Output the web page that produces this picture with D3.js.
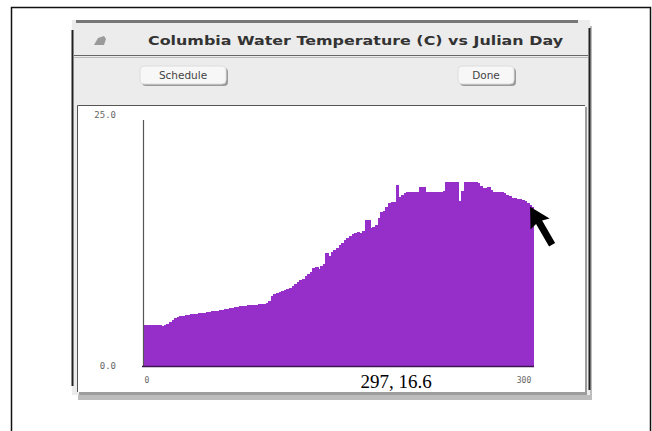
<!DOCTYPE html>
<meta charset="utf-8">
<script src="https://d3js.org/d3.v7.min.js"></script>
<style>
  body { margin: 0; background: #fff; }
  svg { display: block; }
</style>
<div id="my_dataviz"></div>
<script>

  // water temperature (C), one value every 2 julian days starting at day 0
  var dayStep = 2;
  var temps = [
    4.2, 4.2, 4.2, 4.2, 4.2, 4.2, 4.2, 4.1, 4.2, 4.3, 4.5,
    4.7, 4.9, 5.0, 5.1, 5.1,
    5.2, 5.2, 5.3, 5.3, 5.3, 5.4, 5.4, 5.4, 5.5, 5.5, 5.6, 5.6, 5.6, 5.7,
    5.7, 5.8, 5.8, 5.9, 5.9, 6.0, 6.0,
    6.1, 6.1, 6.1, 6.2, 6.2, 6.2, 6.2, 6.3, 6.3, 6.3, 6.4,
    6.6, 7.1, 7.3, 7.4, 7.5, 7.6, 7.7, 7.8, 7.9,
    8.1, 8.3, 8.5, 8.7, 8.8, 9.1, 9.3, 9.6, 10.0,
    10.1, 9.9, 10.2, 10.4,
    11.5, 11.2, 11.6, 11.8, 12.0, 12.3,
    12.5, 12.8, 13.0, 13.2, 13.4, 13.5, 13.6, 13.5, 13.7, 14.8,
    14.8, 14.0, 14.1, 14.3, 15.0,
    15.6, 15.8, 16.2, 16.6, 16.7, 16.7,
    18.4,
    17.2, 17.4, 17.6, 17.7, 17.7, 17.7, 17.7, 17.7,
    18.2, 18.2, 17.7,
    17.7, 17.7, 17.7, 17.7, 17.7, 17.7, 17.8,
    18.7, 18.7, 18.7, 18.7, 18.7,
    16.8,
    17.8,
    18.7, 18.7, 18.7, 18.7, 18.7, 18.6, 18.3,
    18.1, 18.1, 18.2, 17.9,
    17.7, 17.7, 17.7, 17.7, 17.6, 17.4, 17.3,
    17.1, 17.1, 17.0, 17.0, 16.9, 16.8,
    16.6, 16.4, 16.2
  ];
  var yTicks = [0, 25];
  var xTicks = [0, 300];
  var cursorDay = 297, cursorTemp = 16.6;

  var svg = d3.select("#my_dataviz")
    .append("svg")
    .attr("width", 652)
    .attr("height", 431);

  // outer frame of the page
  svg.append("path")
    .attr("d", "M11.5,431 V7.5 H650.5 V431")
    .attr("fill", "none")
    .attr("stroke", "#111")
    .attr("stroke-width", 1.5);

  // ---- window ----
  var win = svg.append("g");
  // drop shadow
  win.append("rect").attr("x", 78).attr("y", 26).attr("width", 514).attr("height", 374)
    .attr("fill", "#bdbdbd");
  win.append("rect").attr("x", 72).attr("y", 20).attr("width", 518).attr("height", 375)
    .attr("fill", "#ececec");
  // top dark bar
  win.append("rect").attr("x", 76).attr("y", 20).attr("width", 502).attr("height", 3)
    .attr("fill", "#777");
  // side dark edges
  win.append("line").attr("x1", 72.5).attr("x2", 72.5).attr("y1", 30).attr("y2", 386)
    .attr("stroke", "#222").attr("stroke-width", 2);
  win.append("line").attr("x1", 589.5).attr("x2", 589.5).attr("y1", 28).attr("y2", 390)
    .attr("stroke", "#222").attr("stroke-width", 2);
  // title separator
  win.append("line").attr("x1", 74).attr("x2", 588).attr("y1", 55.5).attr("y2", 55.5)
    .attr("stroke", "#666").attr("stroke-width", 1);
  win.append("line").attr("x1", 74).attr("x2", 588).attr("y1", 57.5).attr("y2", 57.5)
    .attr("stroke", "#bbb").attr("stroke-width", 1);

  // close box icon
  win.append("path")
    .attr("d", "M94,45 L104,45 L106,39 L104,36 L98,38 Z")
    .attr("fill", "#9a9a9a");

  win.append("text")
    .attr("x", 148).attr("y", 45)
    .attr("textLength", 415).attr("lengthAdjust", "spacingAndGlyphs")
    .style("font-family", "DejaVu Sans")
    .style("font-weight", "bold")
    .style("font-size", "13px")
    .attr("fill", "#333")
    .text("Columbia Water Temperature (C) vs Julian Day");

  // buttons
  function button(x, w, label) {
    win.append("rect").attr("x", x + 2).attr("y", 68).attr("width", w).attr("height", 18)
      .attr("rx", 4).attr("fill", "#9a9a9a");
    win.append("rect").attr("x", x).attr("y", 66).attr("width", w).attr("height", 18)
      .attr("rx", 4).attr("fill", "#f7f7f7").attr("stroke", "#ddd");
    win.append("text").attr("x", x + w / 2).attr("y", 79)
      .attr("text-anchor", "middle")
      .style("font-family", "DejaVu Sans").style("font-size", "10.5px")
      .attr("fill", "#444").text(label);
  }
  button(140, 86, "Schedule");
  button(458, 56, "Done");

  // plot panel
  win.append("rect").attr("x", 79).attr("y", 107).attr("width", 508).attr("height", 288)
    .attr("fill", "#9d9d9d");
  win.append("rect").attr("x", 77).attr("y", 105).attr("width", 508).attr("height", 287)
    .attr("fill", "#fff");
  win.append("path").attr("d", "M77.5,392 V105.5 H585")
    .attr("fill", "none").attr("stroke", "#555").attr("stroke-width", 1);

  // ---- chart ----
  var x0 = 143, x1 = 534, yBase = 366, yTop = 120;

  var x = d3.scaleLinear().domain([0, 300]).range([x0, x1]);
  var y = d3.scaleLinear().domain([0, 25]).range([yBase, yTop]);

  var chart = svg.append("g");

  var barW = x(dayStep) - x(0);
  chart.selectAll("rect.bar")
    .data(temps)
    .enter()
    .append("rect")
    .attr("class", "bar")
    .attr("x", function (d, i) { return x(i * dayStep); })
    .attr("width", function (d, i) { return i === temps.length - 1 ? barW : barW + 1; })
    .attr("y", function (d) { return y(d); })
    .attr("height", function (d) { return yBase - y(d); })
    .attr("shape-rendering", "crispEdges")
    .attr("fill", "#962fc9");

  // y axis line
  chart.append("line")
    .attr("x1", x0 + 0.5).attr("x2", x0 + 0.5)
    .attr("y1", y(25)).attr("y2", yBase)
    .attr("stroke", "#555").attr("stroke-width", 1.2);
  // x axis line
  chart.append("line")
    .attr("x1", x0 - 1).attr("x2", x1)
    .attr("y1", yBase + 0.5).attr("y2", yBase + 0.5)
    .attr("stroke", "#3c1450").attr("stroke-width", 1.5);

  chart.selectAll("text.ylab")
    .data(yTicks)
    .enter()
    .append("text")
    .attr("class", "ylab")
    .attr("x", 116)
    .attr("y", function (d) { return y(d) + (d === 0 ? 3 : -2); })
    .attr("text-anchor", "end")
    .style("font-family", "DejaVu Sans Mono")
    .style("font-size", "9px")
    .attr("fill", "#666")
    .text(function (d) { return d.toFixed(1); });

  chart.selectAll("text.xlab")
    .data(xTicks)
    .enter()
    .append("text")
    .attr("class", "xlab")
    .attr("x", function (d) { return d === 0 ? x(d) + 4 : x(d) - 10; })
    .attr("y", 383)
    .attr("text-anchor", "middle")
    .style("font-family", "DejaVu Sans Mono")
    .style("font-size", "8px")
    .attr("fill", "#666")
    .text(function (d) { return d; });

  // readout of the cursor position
  chart.append("text")
    .attr("x", 396).attr("y", 388)
    .attr("text-anchor", "middle")
    .style("font-family", "Liberation Serif")
    .style("font-size", "19px")
    .attr("fill", "#000")
    .text(cursorDay + ", " + cursorTemp);

  // mouse arrow pointing at the cursor point
  var tx = x(cursorDay), ty = y(cursorTemp) + 4;
  chart.append("path")
    .attr("transform", "translate(" + tx + "," + ty + ") rotate(-30)")
    .attr("d", "M0,0 L-11,20 L-3.5,18 L-3.5,44 L3.5,44 L3.5,18 L11,20 Z")
    .attr("fill", "#000");

</script>
